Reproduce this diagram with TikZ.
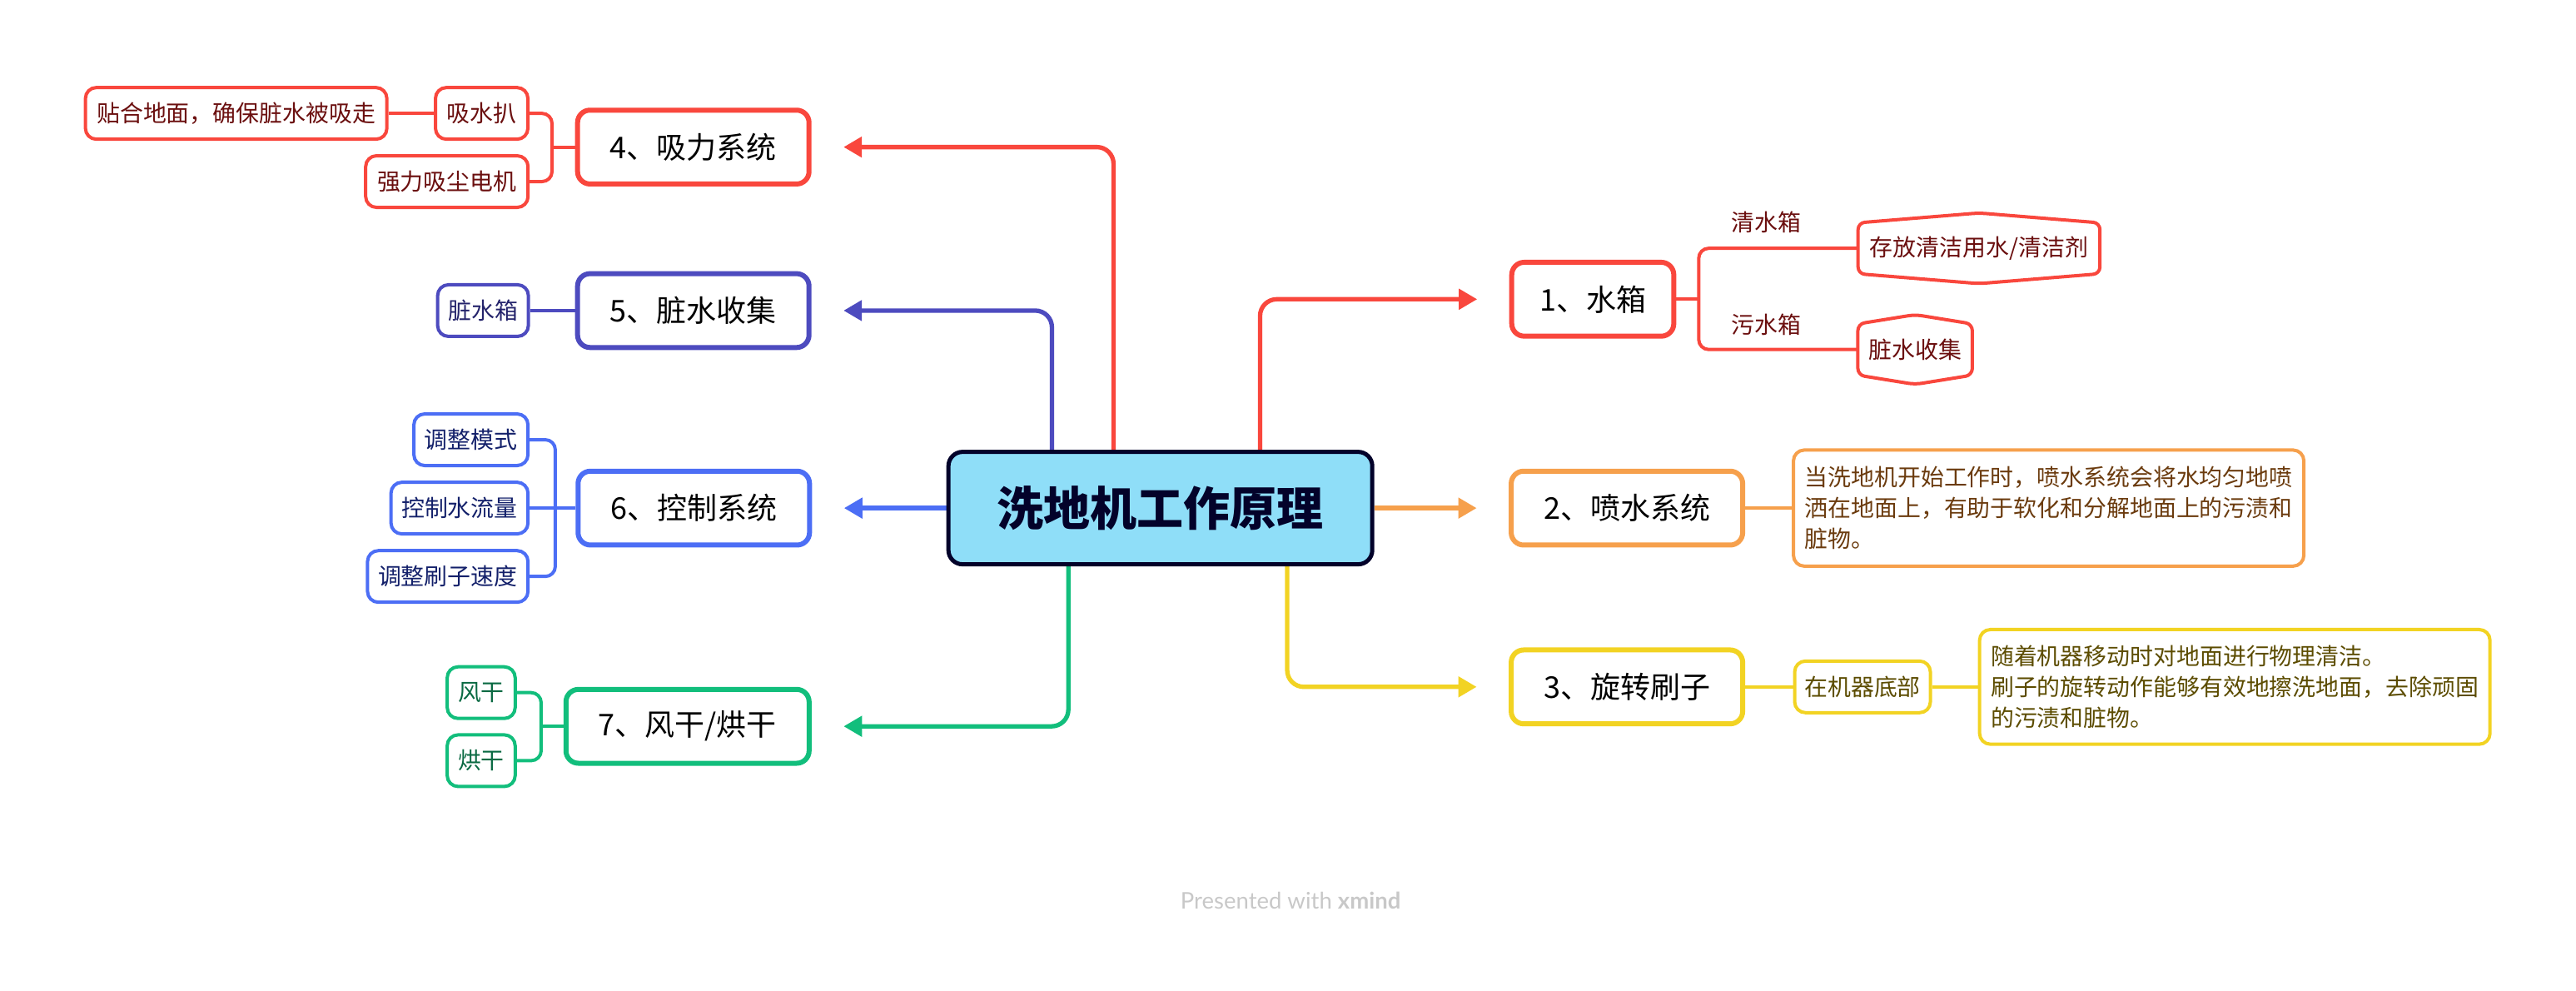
\documentclass[tikz,border=0pt]{standalone}
\usepackage{fontspec}
\setmainfont{Noto Sans CJK SC}
\newfontfamily\latofont{Lato}
\usetikzlibrary{arrows.meta,calc}
\pgfdeclarelayer{bg}
\pgfsetlayers{bg,main}
\definecolor{cRed}{HTML}{F9473D}
\definecolor{cIndigo}{HTML}{4D4BBF}
\definecolor{cBlue}{HTML}{4C6EF5}
\definecolor{cGreen}{HTML}{12BE7C}
\definecolor{cOrange}{HTML}{F6A04C}
\definecolor{cYellow}{HTML}{F2D323}
\definecolor{cFill}{HTML}{8FDEF8}
\definecolor{cBorder}{HTML}{03022A}
\definecolor{tRed}{HTML}{6B0F0F}
\definecolor{tIndigo}{HTML}{24236B}
\definecolor{tBlue}{HTML}{13206A}
\definecolor{tGreen}{HTML}{0B6A43}
\definecolor{tOrange}{HTML}{6B3B0E}
\definecolor{tYellow}{HTML}{5C4C00}
\definecolor{cGray}{HTML}{C8C8C8}
\begin{document}
\begin{tikzpicture}[x=1.973pt,y=-1.973pt,
  central/.style={draw=cBorder, fill=cFill, line width=5pt, rounded corners=17pt,
    minimum width=509pt, minimum height=135pt, inner sep=0pt, text=cBorder,
    font=\fontsize{56pt}{60pt}\selectfont\bfseries},
  mainbox/.style={draw, line width=6pt, rounded corners=15pt, fill=white,
    minimum height=88.7pt, inner sep=0pt, text=black,
    font=\fontsize{36pt}{40pt}\selectfont},
  subbox/.style={draw, line width=4pt, rounded corners=13pt, fill=white,
    minimum height=62pt, inner sep=0pt,
    font=\fontsize{27.9pt}{33pt}\selectfont},
  hexnode/.style={inner sep=0pt, text=tRed, font=\fontsize{27.9pt}{33pt}\selectfont},
  lbl/.style={inner sep=0pt, text=tRed, font=\fontsize{27.9pt}{33pt}\selectfont},
  descbox/.style={draw, line width=4pt, rounded corners=13pt, fill=white,
    text width=586pt, inner xsep=13.5pt, inner ysep=0pt, align=left,
    font=\fontsize{27.9pt}{37pt}\selectfont},
  hexline/.style={line width=4pt, draw=cRed, fill=white, rounded corners=8pt, line join=round},
  conn/.style={line width=5.3pt, rounded corners=20pt, shorten >=38.5pt,
    -{Triangle[length=22pt,width=24pt]}},
  sub/.style={line width=4pt, rounded corners=12pt},
]
\useasboundingbox (0,0) rectangle (1568,603);

% central topic
\node[central] (c) at (706.3,309.2) {洗地机工作原理};

% main topics
\node[mainbox, draw=cRed, minimum width=194.6pt] (t1) at (969.5,182.1) {1、水箱};
\node[mainbox, draw=cOrange, minimum width=278pt] (t2) at (990.3,309.2) {2、喷水系统};
\node[mainbox, draw=cYellow, minimum width=278pt] (t3) at (990.3,418) {3、旋转刷子};
\node[mainbox, draw=cRed, minimum width=278pt] (t4) at (422,89.5) {4、吸力系统};
\node[mainbox, draw=cIndigo, minimum width=278pt] (t5) at (422,189) {5、脏水收集};
\node[mainbox, draw=cBlue, minimum width=278pt] (t6) at (422.3,309.2) {6、控制系统};
\node[mainbox, draw=cGreen, minimum width=292pt] (t7) at (418.5,442) {7、风干/烘干};

% left children
\node[subbox, draw=cRed, text=tRed, minimum width=111pt] (a4a) at (293.2,69) {吸水扒};
\node[subbox, draw=cRed, text=tRed, minimum width=195pt] (a4b) at (272,110.5) {强力吸尘电机};
\node[subbox, draw=cRed, text=tRed, minimum width=362pt] (a4c) at (143.75,69) {贴合地面，确保脏水被吸走};
\node[subbox, draw=cIndigo, text=tIndigo, minimum width=109pt] (a5) at (294,189) {脏水箱};
\node[subbox, draw=cBlue, text=tBlue, minimum width=137pt] (a6a) at (286.65,267.6) {调整模式};
\node[subbox, draw=cBlue, text=tBlue, minimum width=164.5pt] (a6b) at (279.7,309.2) {控制水流量};
\node[subbox, draw=cBlue, text=tBlue, minimum width=192.7pt] (a6c) at (272.55,350.8) {调整刷子速度};
\node[subbox, draw=cGreen, text=tGreen, minimum width=81.6pt] (a7a) at (292.9,421.5) {风干};
\node[subbox, draw=cGreen, text=tGreen, minimum width=81.6pt] (a7b) at (292.9,462.9) {烘干};

% right children
\node[hexnode, minimum width=290pt, minimum height=84.4pt] (h1) at (1204.6,151.1) {};
\node[hexnode, minimum width=137pt, minimum height=83.3pt] (h2) at (1165.7,212.7) {};
\draw[hexline] (h1.west) -- ($(h1.west)+(0,15.5)$) -- (h1.south) -- ($(h1.east)+(0,15.5)$)
  -- ($(h1.east)+(0,-15.5)$) -- (h1.north) -- ($(h1.west)+(0,-15.5)$) -- cycle;
\draw[hexline] (h2.west) -- ($(h2.west)+(0,15.6)$) -- (h2.south) -- ($(h2.east)+(0,15.6)$)
  -- ($(h2.east)+(0,-15.6)$) -- (h2.north) -- ($(h2.west)+(0,-15.6)$) -- cycle;
\node[hexnode] (h1t) at (h1.center) {存放清洁用水/清洁剂};
\node[hexnode] (h2t) at (h2.center) {脏水收集};
\node[lbl] (l1) at (1075,135) {清水箱};
\node[lbl] (l2) at (1075,197.5) {污水箱};

\node[descbox, draw=cOrange, text=tOrange, minimum height=139.4pt] (d2) at (1247,309.2)
  {当洗地机开始工作时，喷水系统会将水均匀地喷\\洒在地面上，有助于软化和分解地面上的污渍和\\脏物。};
\node[subbox, draw=cYellow, text=tYellow, minimum width=163pt] (s3) at (1133.7,418) {在机器底部};
\node[descbox, draw=cYellow, text=tYellow, minimum height=137.7pt] (d3) at (1360.3,418)
  {随着机器移动时对地面进行物理清洁。\\刷子的旋转动作能够有效地擦洗地面，去除顽固\\的污渍和脏物。};

% watermark
\node[font=\latofont\fontsize{27.5pt}{32pt}\selectfont, text=cGray] (wm) at (785.6,547.8)
  {Presented with \textbf{xmind}};

\begin{pgfonlayer}{bg}
\coordinate (j1) at (767,0);
\coordinate (j3) at (783.5,0);
\coordinate (j4) at (677.8,0);
\coordinate (j5) at (640.3,0);
\coordinate (j7) at (650.3,0);
\draw[conn, cRed] (c.north -| j1) |- (t1.west);
\draw[conn, cOrange] (c.east) -- (t2.west);
\draw[conn, cYellow] (c.south -| j3) |- (t3.west);
\draw[conn, cRed] (c.north -| j4) |- (t4.east);
\draw[conn, cIndigo] (c.north -| j5) |- (t5.east);
\draw[conn, cBlue] (c.west) -- (t6.east);
\draw[conn, cGreen] (c.south -| j7) |- (t7.east);

\coordinate (k1) at (1034,182.1);
\draw[sub, cRed] (t1.east) -- (k1);
\draw[sub, cRed] (h1.west) -| (k1) |- (h2.west);
\coordinate (k4) at (336,89.5);
\draw[sub, cRed] (t4.west) -- (k4);
\draw[sub, cRed] (a4a.east) -| (k4) |- (a4b.east);
\draw[sub, cRed] (a4c.east) -- (a4a.west);
\draw[sub, cIndigo] (t5.west) -- (a5.east);
\coordinate (k6) at (338,309.2);
\draw[sub, cBlue] (a6a.east) -| (k6) |- (a6c.east);
\draw[sub, cBlue] (a6b.east) -- (t6.west);
\coordinate (k7) at (329.4,442);
\draw[sub, cGreen] (a7a.east) -| (k7) |- (a7b.east);
\draw[sub, cGreen] (t7.west) -- (k7);
\draw[sub, cOrange] (t2.east) -- (d2.west);
\draw[sub, cYellow] (t3.east) -- (s3.west);
\draw[sub, cYellow] (s3.east) -- (d3.west);
\end{pgfonlayer}
\end{tikzpicture}
\end{document}
